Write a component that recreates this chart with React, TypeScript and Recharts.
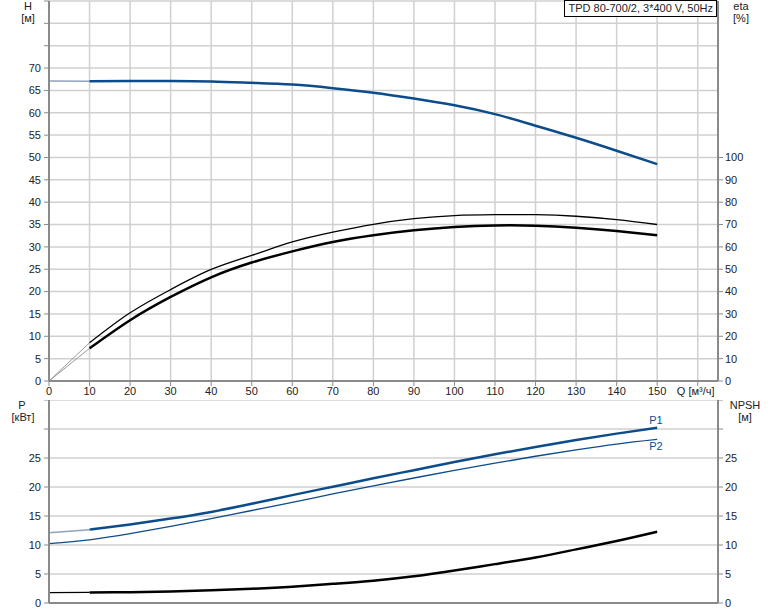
import React from 'react';
import { ComposedChart, Line, XAxis, YAxis, CartesianGrid } from 'recharts';

// Flow rate Q [m³/h]
const qValues = [0, 10, 20, 30, 40, 50, 60, 70, 80, 90, 100, 110, 120, 130, 140, 150];
// Head H [m]
const headValues = [67.1, 67.05, 67.1, 67.1, 67.0, 66.7, 66.3, 65.5, 64.5, 63.2, 61.7, 59.7, 57.1, 54.4, 51.5, 48.5];
// Efficiency curves [%]
const etaPumpValues = [0, 17.1, 30.5, 40.9, 49.9, 56.2, 62.2, 66.6, 70.1, 72.6, 74.0, 74.4, 74.4, 73.7, 72.2, 70.0];
const etaTotalValues = [0, 14.6, 27.2, 37.6, 46.4, 53.0, 58.0, 62.2, 65.2, 67.4, 68.9, 69.6, 69.5, 68.6, 67.1, 65.2];
// Power [kW]
const p1Values = [12.1, 12.65, 13.55, 14.55, 15.7, 17.1, 18.6, 20.05, 21.5, 22.9, 24.3, 25.65, 26.9, 28.1, 29.2, 30.2];
const p2Values = [10.25, 10.9, 11.95, 13.2, 14.55, 15.95, 17.35, 18.8, 20.2, 21.55, 22.85, 24.1, 25.3, 26.4, 27.4, 28.2];
// NPSH [m]
const npshValues = [1.8, 1.82, 1.87, 2.0, 2.2, 2.45, 2.8, 3.3, 3.85, 4.6, 5.6, 6.7, 7.85, 9.25, 10.7, 12.3];

const qTicks = [0, 10, 20, 30, 40, 50, 60, 70, 80, 90, 100, 110, 120, 130, 140, 150, 160];
const hTicks = [0, 5, 10, 15, 20, 25, 30, 35, 40, 45, 50, 55, 60, 65, 70, 75, 80, 85];
const etaTicks = [0, 10, 20, 30, 40, 50, 60, 70, 80, 90, 100];
const pTicks = [0, 5, 10, 15, 20, 25, 30, 35];

const qAxisLabel = 'Q [м³/ч]';
const title = 'TPD 80-700/2, 3*400 V, 50Hz';

const toRows = (vals: number[]) => qValues.map((q, i) => ({ q, v: vals[i] }));
const startPart = (vals: number[]) => toRows(vals).filter((r) => r.q <= 10);
const mainPart = (vals: number[]) => toRows(vals).filter((r) => r.q >= 10);

const FONT = '"Liberation Sans", Arial, sans-serif';
const TEXT = '#222';
const AXIS = '#8a8a8a';
const GRID = '#d0d0d0';
const BLUE = '#0d4c8b';
const LIGHTBLUE = '#8ea3bf';

const tickStyle = { fontSize: 11, fill: TEXT, fontFamily: FONT };

const QTick = (props: any) => {
  const { x, y, payload } = props;
  const v = payload.value;
  const label = v === 160 ? qAxisLabel : String(v);
  return (
    <text x={v === 160 ? x - 2 : x} y={y} dy="0.71em" textAnchor="middle" style={tickStyle}>
      {label}
    </text>
  );
};

const labelDiv = (text: string, left: number, top: number, width = 40): React.ReactNode => (
  <div
    style={{
      position: 'absolute',
      left: left - width / 2,
      top,
      width,
      textAlign: 'center',
      fontFamily: FONT,
      fontSize: 11,
      color: TEXT,
      lineHeight: '12px',
    }}
  >
    {text}
  </div>
);

export default function App() {
  return (
    <div style={{ position: 'absolute', left: 0, top: 0, width: 774, height: 611, background: '#fff', overflow: 'hidden' }}>
      <div style={{ position: 'absolute', left: 0, top: 0 }}>
        <ComposedChart width={774} height={400} margin={{ top: 1, right: 0, bottom: 0, left: 0 }}>
          <CartesianGrid yAxisId="left" xAxisId="q" stroke={GRID} strokeWidth={1.5} />
          <XAxis
            xAxisId="q"
            type="number"
            dataKey="q"
            domain={[0, 165]}
            ticks={qTicks}
            tick={<QTick />}
            tickSize={5}
            tickMargin={1}
            height={19}
            interval={0}
            allowDataOverflow
            axisLine={{ stroke: AXIS, strokeWidth: 2 }}
            tickLine={{ stroke: AXIS }}
          />
          <YAxis
            yAxisId="left"
            type="number"
            domain={[0, 85]}
            ticks={hTicks}
            interval={0}
            tickFormatter={(v: number) => (v <= 70 ? String(v) : '')}
            width={49}
            tickSize={5}
            tickMargin={3}
            tick={tickStyle}
            axisLine={{ stroke: AXIS, strokeWidth: 2 }}
            tickLine={{ stroke: AXIS }}
          />
          <YAxis
            yAxisId="right"
            orientation="right"
            type="number"
            domain={[0, 170]}
            ticks={etaTicks}
            interval={0}
            width={56}
            tickSize={5}
            tickMargin={2}
            tick={{ ...tickStyle, textAnchor: 'start' }}
            axisLine={{ stroke: AXIS, strokeWidth: 2 }}
            tickLine={{ stroke: AXIS }}
          />
          <Line xAxisId="q" yAxisId="left" data={startPart(headValues)} dataKey="v" type="natural" stroke={LIGHTBLUE} strokeWidth={1.5} dot={false} isAnimationActive={false} />
          <Line xAxisId="q" yAxisId="left" data={mainPart(headValues)} dataKey="v" type="natural" stroke={BLUE} strokeWidth={2.5} dot={false} isAnimationActive={false} />
          <Line xAxisId="q" yAxisId="right" data={startPart(etaPumpValues)} dataKey="v" type="natural" stroke="#999" strokeWidth={1} dot={false} isAnimationActive={false} />
          <Line xAxisId="q" yAxisId="right" data={mainPart(etaPumpValues)} dataKey="v" type="natural" stroke="#000" strokeWidth={1.3} dot={false} isAnimationActive={false} />
          <Line xAxisId="q" yAxisId="right" data={startPart(etaTotalValues)} dataKey="v" type="natural" stroke="#999" strokeWidth={1} dot={false} isAnimationActive={false} />
          <Line xAxisId="q" yAxisId="right" data={mainPart(etaTotalValues)} dataKey="v" type="natural" stroke="#000" strokeWidth={2.5} dot={false} isAnimationActive={false} />
        </ComposedChart>
      </div>

      <div style={{ position: 'absolute', left: 0, top: 400 }}>
        <ComposedChart width={774} height={211} margin={{ top: 0, right: 0, bottom: 0, left: 0 }}>
          <CartesianGrid yAxisId="left" xAxisId="q" stroke={GRID} strokeWidth={1.5} />
          <XAxis
            xAxisId="q"
            type="number"
            dataKey="q"
            domain={[0, 165]}
            ticks={qTicks}
            tick={false}
            tickSize={5}
            height={8}
            interval={0}
            allowDataOverflow
            axisLine={{ stroke: AXIS, strokeWidth: 2 }}
            tickLine={{ stroke: AXIS }}
          />
          <YAxis
            yAxisId="left"
            type="number"
            domain={[0, 35]}
            ticks={pTicks}
            interval={0}
            tickFormatter={(v: number) => (v <= 25 ? String(v) : '')}
            width={49}
            tickSize={5}
            tickMargin={3}
            tick={tickStyle}
            axisLine={{ stroke: AXIS, strokeWidth: 2 }}
            tickLine={{ stroke: AXIS }}
          />
          <YAxis
            yAxisId="right"
            orientation="right"
            type="number"
            domain={[0, 35]}
            ticks={pTicks}
            interval={0}
            tickFormatter={(v: number) => (v <= 25 ? String(v) : '')}
            width={56}
            tickSize={5}
            tickMargin={2}
            tick={{ ...tickStyle, textAnchor: 'start' }}
            axisLine={{ stroke: AXIS, strokeWidth: 2 }}
            tickLine={{ stroke: AXIS }}
          />
          <Line xAxisId="q" yAxisId="left" data={startPart(p1Values)} dataKey="v" type="natural" stroke={LIGHTBLUE} strokeWidth={1.5} dot={false} isAnimationActive={false} />
          <Line xAxisId="q" yAxisId="left" data={mainPart(p1Values)} dataKey="v" type="natural" stroke={BLUE} strokeWidth={2.5} dot={false} isAnimationActive={false} />
          <Line xAxisId="q" yAxisId="left" data={toRows(p2Values)} dataKey="v" type="natural" stroke={BLUE} strokeWidth={1.3} dot={false} isAnimationActive={false} />
          <Line xAxisId="q" yAxisId="right" data={startPart(npshValues)} dataKey="v" type="natural" stroke="#000" strokeWidth={1.2} dot={false} isAnimationActive={false} />
          <Line xAxisId="q" yAxisId="right" data={mainPart(npshValues)} dataKey="v" type="natural" stroke="#000" strokeWidth={2.5} dot={false} isAnimationActive={false} />
        </ComposedChart>
      </div>

      <div
        style={{
          position: 'absolute',
          right: 57,
          top: 0,
          height: 15,
          padding: '0 3px',
          border: '1px solid #000',
          background: '#fff',
          fontFamily: FONT,
          fontSize: 11,
          color: TEXT,
          lineHeight: '15px',
          whiteSpace: 'nowrap',
        }}
      >
        {title}
      </div>

      {labelDiv('H', 28, 0)}
      {labelDiv('[м]', 28, 12)}
      {labelDiv('eta', 741, 0)}
      {labelDiv('[%]', 741, 12)}
      {labelDiv('P', 22, 399)}
      {labelDiv('[кВт]', 23, 411)}
      {labelDiv('NPSH', 745, 399)}
      {labelDiv('[м]', 745, 411)}
      <div style={{ position: 'absolute', left: 646, top: 414, width: 20, textAlign: 'center', fontFamily: FONT, fontSize: 11, color: BLUE, lineHeight: '12px' }}>P1</div>
      <div style={{ position: 'absolute', left: 646, top: 440, width: 20, textAlign: 'center', fontFamily: FONT, fontSize: 11, color: BLUE, lineHeight: '12px' }}>P2</div>
    </div>
  );
}
